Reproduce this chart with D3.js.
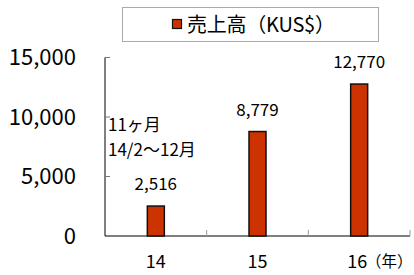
<!DOCTYPE html>
<html><head><meta charset="utf-8">
<script src="https://cdn.jsdelivr.net/npm/d3@7"></script>
<style>body{margin:0;background:#fff}svg{display:block}text{font-family:"Noto Sans CJK JP","Noto Sans",sans-serif;fill:#000}</style>
</head><body>
<script>
const categories = ["14", "15", "16"];
const values = [2516, 8779, 12770];
const valueLabels = ["2,516", "8,779", "12,770"];
const yTicks = [0, 5000, 10000, 15000];
const seriesName = "売上高（KUS$）";
const unitLabel = "（年）";
const noteLines = ["11ヶ月", "14/2～12月"];

const W = 414, H = 275;
const svg = d3.select("body").append("svg").attr("width", W).attr("height", H);
const x0 = 105, x1 = 410, y0 = 236, yTop = 57.5;
const x = d3.scaleBand().domain(categories).range([x0, x1]);
const y = d3.scaleLinear().domain([0, 15000]).range([y0, yTop]);

// y axis
svg.append("line").attr("x1", x0).attr("x2", x0).attr("y1", yTop).attr("y2", y0).attr("stroke", "#000").attr("stroke-width", 1);
yTicks.forEach(t => {
  if (t > 0) svg.append("line").attr("x1", x0).attr("x2", x0 + 5).attr("y1", y(t)).attr("y2", y(t)).attr("stroke", "#777").attr("stroke-width", 1);
  svg.append("text").attr("x", 76).attr("y", y(t)).attr("dy", "0.36em").attr("text-anchor", "end")
    .style("font-size", "22px").text(d3.format(",")(t));
});
// x axis
svg.append("line").attr("x1", x0).attr("x2", x1).attr("y1", y0).attr("y2", y0).attr("stroke", "#000").attr("stroke-width", 1);
categories.forEach((c, i) => {
  const bx = x(c) + x.bandwidth();
  svg.append("line").attr("x1", bx).attr("x2", bx).attr("y1", y0).attr("y2", y0 - 6).attr("stroke", "#999").attr("stroke-width", 1);
  svg.append("text").attr("x", x(c) + x.bandwidth() / 2 - (i === 2 ? 2 : 0)).attr("y", 262).attr("dy", "0.36em").attr("text-anchor", "middle")
    .style("font-size", "18px").text(c);
});
svg.append("text").attr("x", 366).attr("y", 261).attr("dy", "0.36em").style("font-size", "15.5px").text(unitLabel);

// bars
const bw = 17;
values.forEach((v, i) => {
  const cx = x(categories[i]) + x.bandwidth() / 2;
  svg.append("rect").attr("x", cx - bw / 2).attr("y", y(v)).attr("width", bw).attr("height", y0 - y(v))
    .attr("fill", "#CC3300").attr("stroke", "#111").attr("stroke-width", 1.5);
  svg.append("text").attr("x", cx).attr("y", y(v) - 22).attr("dy", "0.36em").attr("text-anchor", "middle")
    .style("font-size", "17px").text(valueLabels[i]);
});

// note
noteLines.forEach((t, i) => {
  svg.append("text").attr("x", 108).attr("y", 125 + i * 25).attr("dy", "0.36em").style("font-size", "17px").text(t);
});

// legend
svg.append("rect").attr("x", 122.5).attr("y", 7.5).attr("width", 256).attr("height", 34).attr("fill", "#fff").attr("stroke", "#aaa");
svg.append("rect").attr("x", 172.5).attr("y", 19.5).attr("width", 9).attr("height", 9).attr("fill", "#CC3300").attr("stroke", "#111").attr("stroke-width", 1.2);
svg.append("text").attr("x", 187).attr("y", 25).attr("dy", "0.36em").attr("textLength", 148).attr("lengthAdjust", "spacing")
  .style("font-size", "20px").text(seriesName);
</script>
</body></html>
